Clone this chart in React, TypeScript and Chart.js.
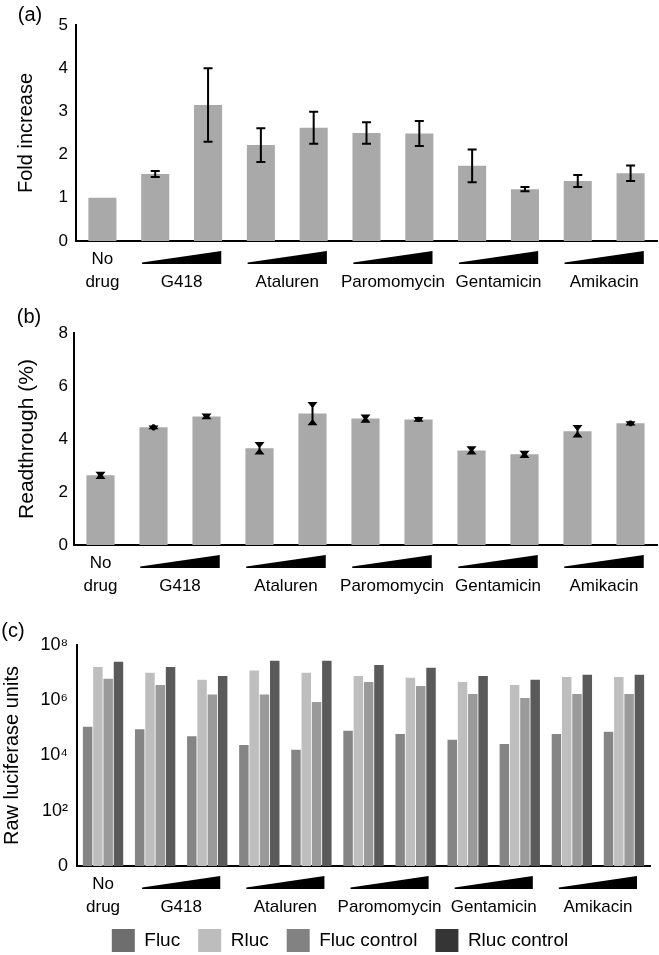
import React, { useEffect, useRef } from 'react';
import { Chart, registerables } from 'chart.js';

Chart.register(...registerables);

// ---------- data ----------
const categories = [
  'No drug',
  'G418 low', 'G418 high',
  'Ataluren low', 'Ataluren high',
  'Paromomycin low', 'Paromomycin high',
  'Gentamicin low', 'Gentamicin high',
  'Amikacin low', 'Amikacin high',
];
const drugNames = ['G418', 'Ataluren', 'Paromomycin', 'Gentamicin', 'Amikacin'];

const foldIncrease = [1.0, 1.55, 3.15, 2.22, 2.62, 2.5, 2.49, 1.74, 1.2, 1.39, 1.57];
const foldError = [0, 0.07, 0.85, 0.39, 0.37, 0.25, 0.29, 0.38, 0.05, 0.14, 0.18];
const foldTicks = [0, 1, 2, 3, 4, 5];

const readthrough = [2.63, 4.44, 4.85, 3.65, 4.96, 4.77, 4.74, 3.57, 3.42, 4.29, 4.59];
const readthroughError = [0.1, 0.03, 0.07, 0.2, 0.4, 0.12, 0.05, 0.12, 0.1, 0.2, 0.04];
const readTicks = [0, 2, 4, 6, 8];

const fluc = [1.1e5, 9e4, 5e4, 2.4e4, 1.6e4, 7.8e4, 6e4, 3.7e4, 2.6e4, 6e4, 7.2e4];
const rluc = [1.6e7, 1e7, 5.5e6, 1.2e7, 1e7, 7.6e6, 6.5e6, 4.6e6, 3.6e6, 7e6, 7e6];
const flucControl = [6e6, 3.6e6, 1.6e6, 1.6e6, 8.7e5, 4.6e6, 3.3e6, 1.7e6, 1.2e6, 1.7e6, 1.7e6];
const rlucControl = [2.5e7, 1.6e7, 7.6e6, 2.7e7, 2.7e7, 1.9e7, 1.5e7, 7.6e6, 5.5e6, 8.3e6, 8.3e6];
const rawTicks = [1, 1e2, 1e4, 1e6, 1e8];
const rawTickLabels = ['0', '10²', '10⁴', '10⁶', '10⁸'];

const seriesNames = ['Fluc', 'Rluc', 'Fluc control', 'Rluc control'];
const seriesColors = ['#858585', '#bebebe', '#9a9a9a', '#5a5a5a'];
const legendColors = ['#6e6e6e', '#bdbdbd', '#828282', '#353535'];

// ---------- styling ----------
const FONT = '"Liberation Sans", Arial, Helvetica, sans-serif';
const BAR_GREY = '#a9a9a9';

// ---------- plugins ----------
function groupAxisPlugin() {
  return {
    id: 'groupAxis',
    afterDraw(chart: any) {
      const { ctx, chartArea } = chart;
      const x = chart.scales.x;
      const base = chartArea.bottom;
      const step = x.getPixelForValue(1) - x.getPixelForValue(0);
      ctx.save();
      ctx.fillStyle = '#000';
      ctx.font = `17px ${FONT}`;
      ctx.textAlign = 'center';
      ctx.textBaseline = 'middle';
      const x0 = x.getPixelForValue(0);
      ctx.fillText('No', x0, base + 18);
      ctx.fillText('drug', x0, base + 41);
      drugNames.forEach((name, i) => {
        const a = x.getPixelForValue(1 + 2 * i);
        const b = x.getPixelForValue(2 + 2 * i);
        const L = a - step * 0.25;
        const R = b + step * 0.25;
        ctx.beginPath();
        ctx.moveTo(L, base + 21.5);
        ctx.lineTo(R, base + 10);
        ctx.lineTo(R, base + 23);
        ctx.lineTo(L, base + 23);
        ctx.closePath();
        ctx.fill();
        ctx.fillText(name, (a + b) / 2, base + 41);
      });
      ctx.restore();
    },
  };
}

function errorBarPlugin(errors: number[], flared: boolean) {
  return {
    id: 'errorBars',
    afterDatasetsDraw(chart: any) {
      const { ctx } = chart;
      const y = chart.scales.y;
      const meta = chart.getDatasetMeta(0);
      const data = chart.data.datasets[0].data as number[];
      ctx.save();
      ctx.strokeStyle = '#000';
      ctx.fillStyle = '#000';
      ctx.lineWidth = 2;
      meta.data.forEach((el: any, i: number) => {
        const e = errors[i];
        if (!e) return;
        const cx = el.x;
        const top = y.getPixelForValue(data[i] + e);
        const bot = y.getPixelForValue(data[i] - e);
        ctx.beginPath();
        ctx.moveTo(cx, top);
        ctx.lineTo(cx, bot);
        ctx.stroke();
        if (flared) {
          ctx.beginPath();
          ctx.moveTo(cx - 5, top - 1);
          ctx.lineTo(cx + 5, top - 1);
          ctx.lineTo(cx + 1, top + 4);
          ctx.lineTo(cx - 1, top + 4);
          ctx.closePath();
          ctx.fill();
          ctx.beginPath();
          ctx.moveTo(cx - 5, bot + 1);
          ctx.lineTo(cx + 5, bot + 1);
          ctx.lineTo(cx + 1, bot - 4);
          ctx.lineTo(cx - 1, bot - 4);
          ctx.closePath();
          ctx.fill();
        } else {
          ctx.beginPath();
          ctx.moveTo(cx - 4.5, top);
          ctx.lineTo(cx + 4.5, top);
          ctx.moveTo(cx - 4.5, bot);
          ctx.lineTo(cx + 4.5, bot);
          ctx.stroke();
        }
      });
      ctx.restore();
    },
  };
}

function panelLabelPlugin(text: string, px: number, py: number) {
  return {
    id: 'panelLabel',
    afterDraw(chart: any) {
      const { ctx } = chart;
      ctx.save();
      ctx.fillStyle = '#000';
      ctx.font = `20px ${FONT}`;
      ctx.textAlign = 'center';
      ctx.textBaseline = 'middle';
      ctx.fillText(text, px, py);
      ctx.restore();
    },
  };
}

// ---------- configs ----------
function simpleBarConfig(opts: {
  values: number[];
  errors: number[];
  ticks: number[];
  max: number;
  title: string;
  titleSize: number;
  titlePad: number;
  top: number;
  xHeight: number;
  yWidth: number;
  tickPad: number;
  label: string;
  labelX: number;
  labelY: number;
  flared: boolean;
}) {
  return {
    type: 'bar',
    data: {
      labels: categories,
      datasets: [
        {
          data: opts.values,
          backgroundColor: BAR_GREY,
          borderWidth: 0,
          barPercentage: 0.9,
          categoryPercentage: 0.59,
        },
      ],
    },
    options: {
      animation: false,
      responsive: false,
      maintainAspectRatio: false,
      layout: { padding: { top: opts.top, right: 2, left: 0, bottom: 0 } },
      plugins: { legend: { display: false }, tooltip: { enabled: false } },
      scales: {
        x: {
          grid: { display: false, drawTicks: false },
          ticks: { display: false },
          border: { color: '#000', width: 2 },
          afterFit(s: any) {
            s.height = opts.xHeight;
          },
        },
        y: {
          min: 0,
          max: opts.max,
          afterBuildTicks(s: any) {
            s.ticks = opts.ticks.map((v) => ({ value: v }));
          },
          grid: { display: false, drawTicks: false },
          border: { color: '#000', width: 2 },
          ticks: { font: { size: 17, family: FONT }, color: '#000', padding: opts.tickPad },
          title: {
            display: true,
            text: opts.title,
            color: '#000',
            font: { size: opts.titleSize, family: FONT },
            padding: { top: opts.titlePad, bottom: 0 },
          },
          afterFit(s: any) {
            s.width = opts.yWidth;
          },
        },
      },
    },
    plugins: [
      errorBarPlugin(opts.errors, opts.flared),
      groupAxisPlugin(),
      panelLabelPlugin(opts.label, opts.labelX, opts.labelY),
    ],
  };
}

function rawConfig() {
  const series = [fluc, rluc, flucControl, rlucControl];
  return {
    type: 'bar',
    data: {
      labels: categories,
      datasets: series.map((d, i) => ({
        label: seriesNames[i],
        data: d,
        backgroundColor: seriesColors[i],
        borderWidth: 0,
        barPercentage: 0.92,
        categoryPercentage: 0.79,
      })),
    },
    options: {
      animation: false,
      responsive: false,
      maintainAspectRatio: false,
      layout: { padding: { top: 55, right: 9, left: 30, bottom: 0 } },
      plugins: {
        tooltip: { enabled: false },
        legend: {
          position: 'bottom',
          labels: {
            boxWidth: 23,
            boxHeight: 23,
            padding: 18,
            color: '#000',
            font: { size: 19, family: FONT },
            generateLabels() {
              return seriesNames.map((n, i) => ({
                text: n,
                fillStyle: legendColors[i],
                strokeStyle: legendColors[i],
                lineWidth: 0,
                hidden: false,
                datasetIndex: i,
                fontColor: '#000',
              }));
            },
          },
        },
      },
      scales: {
        x: {
          grid: { display: false, drawTicks: false },
          ticks: { display: false },
          border: { color: '#000', width: 2 },
          afterFit(s: any) {
            s.height = 45;
          },
        },
        y: {
          type: 'logarithmic',
          min: 1,
          max: 1e8,
          afterBuildTicks(s: any) {
            s.ticks = rawTicks.map((v) => ({ value: v }));
          },
          grid: { display: false, drawTicks: false },
          border: { color: '#000', width: 2 },
          ticks: {
            font: { size: 18, family: FONT },
            color: '#000',
            padding: 9,
            callback(v: any) {
              const idx = rawTicks.indexOf(Number(v));
              return idx >= 0 ? rawTickLabels[idx] : '';
            },
          },
          title: {
            display: true,
            text: 'Raw luciferase units',
            color: '#000',
            font: { size: 20, family: FONT },
            padding: { top: -30, bottom: 0 },
          },
          afterFit(s: any) {
            s.width = 47;
          },
        },
      },
    },
    plugins: [groupAxisPlugin(), panelLabelPlugin('(c)', 13, 41)],
  };
}

// ---------- components ----------
function ChartCanvas({ top, height, build }: { top: number; height: number; build: () => any }) {
  const ref = useRef<HTMLCanvasElement | null>(null);
  useEffect(() => {
    const chart = new Chart(ref.current as HTMLCanvasElement, build());
    return () => chart.destroy();
  }, []);
  return (
    <canvas
      ref={ref}
      width={659}
      height={height}
      style={{ position: 'absolute', left: 0, top, width: 659, height, display: 'block' }}
    />
  );
}

export default function App() {
  return (
    <div
      style={{
        position: 'absolute',
        left: 0,
        top: 0,
        width: 659,
        height: 955,
        overflow: 'hidden',
        background: '#fff',
      }}
    >
      <ChartCanvas
        top={0}
        height={300}
        build={() =>
          simpleBarConfig({
            values: foldIncrease,
            errors: foldError,
            ticks: foldTicks,
            max: 5,
            title: 'Fold increase',
            titleSize: 20,
            titlePad: 14,
            top: 25,
            xHeight: 59,
            yWidth: 76,
            tickPad: 8,
            label: '(a)',
            labelX: 30,
            labelY: 15,
            flared: false,
          })
        }
      />
      <ChartCanvas
        top={300}
        height={300}
        build={() =>
          simpleBarConfig({
            values: readthrough,
            errors: readthroughError,
            ticks: readTicks,
            max: 8,
            title: 'Readthrough (%)',
            titleSize: 21,
            titlePad: 15,
            top: 33,
            xHeight: 55,
            yWidth: 74,
            tickPad: 6,
            label: '(b)',
            labelX: 29,
            labelY: 17,
            flared: true,
          })
        }
      />
      <ChartCanvas top={590} height={372} build={rawConfig} />
    </div>
  );
}
